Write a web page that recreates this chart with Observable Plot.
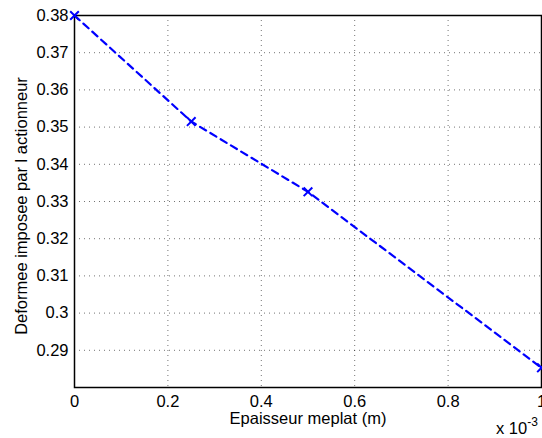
<!DOCTYPE html>
<html>
<head>
<meta charset="utf-8">
<script src="https://cdn.jsdelivr.net/npm/d3@7"></script>
<script src="https://cdn.jsdelivr.net/npm/@observablehq/plot@0.6"></script>
<style>
html,body{margin:0;padding:0;background:#fff;}
svg{font-family:"Liberation Sans",Arial,sans-serif;}
</style>
</head>
<body>
<div id="chart"></div>
<script>
const thickness = [0, 0.25, 0.5, 1.0];           // x 10^-3 m
const deformation = [0.38, 0.3515, 0.3326, 0.2853];
const xTicks = [0, 0.2, 0.4, 0.6, 0.8, 1];
const yTicks = [0.29, 0.30, 0.31, 0.32, 0.33, 0.34, 0.35, 0.36, 0.37, 0.38];

const data = thickness.map((x, i) => ({x, y: deformation[i]}));
const fmt = d => String(+d.toFixed(2));

const chart = Plot.plot({
  width: 542,
  height: 438,
  marginLeft: 74,
  marginTop: 15,
  marginRight: 1,
  marginBottom: 51,
  style: {fontFamily: '"Liberation Sans", Arial, sans-serif', fontSize: "16px", background: "#fff", overflow: "visible"},
  x: {domain: [0, 1], ticks: xTicks, tickFormat: fmt},
  y: {domain: [0.28, 0.38], ticks: yTicks, tickFormat: fmt},
  marks: [
    Plot.gridX(xTicks, {stroke: "#000", strokeOpacity: 0.55, strokeDasharray: "1,4"}),
    Plot.gridY(yTicks, {stroke: "#000", strokeOpacity: 0.55, strokeDasharray: "1,4"}),
    Plot.axisX(xTicks, {tickSize: 0, tickPadding: 8, tickFormat: fmt, fontSize: 16.5, label: null, fill: "#000"}),
    Plot.axisY(yTicks, {tickSize: 0, tickPadding: 6, tickFormat: fmt, fontSize: 16.5, label: null, fill: "#000"}),
    Plot.frame({stroke: "#000", strokeWidth: 1.5}),
    Plot.line(data, {x: "x", y: "y", stroke: "#0000ff", strokeWidth: 2.2, strokeDasharray: "7,5"}),
    Plot.dot(data, {x: "x", y: "y", symbol: "times", r: 4, stroke: "#0000ff", strokeWidth: 2})
  ]
});
const svg = d3.select(chart);
svg.append("text")
  .attr("x", 308).attr("y", 424)
  .attr("text-anchor", "middle")
  .attr("font-size", 16.5).attr("fill", "#000")
  .text("Epaisseur meplat (m)");
svg.append("text")
  .attr("transform", "translate(27,206) rotate(-90)")
  .attr("text-anchor", "middle")
  .attr("font-size", 16.5).attr("fill", "#000")
  .text("Deformee imposee par l actionneur");
const ex = svg.append("text")
  .attr("x", 496).attr("y", 434)
  .attr("text-anchor", "start")
  .attr("font-size", 16.5).attr("fill", "#000");
ex.append("tspan").text("x 10");
ex.append("tspan").attr("font-size", 12).attr("dy", -8).text("-3");
document.getElementById("chart").appendChild(chart);
</script>
</body>
</html>
